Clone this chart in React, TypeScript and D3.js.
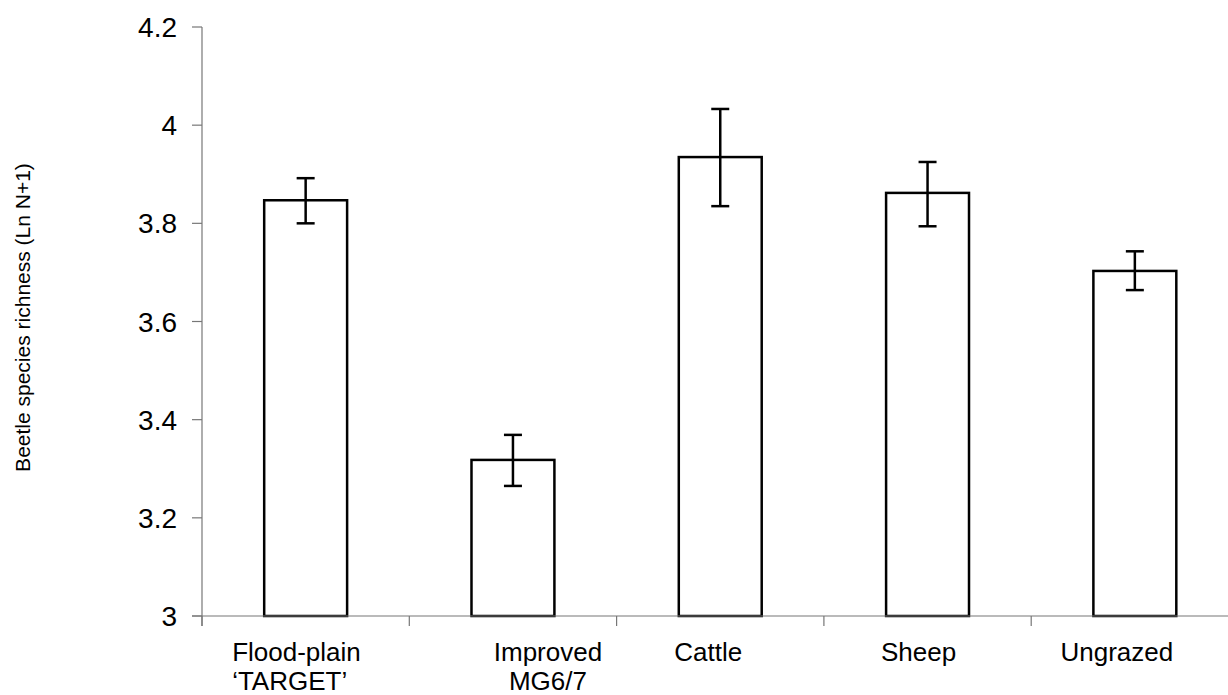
import React, { useRef, useEffect } from "react";
import * as d3 from "d3";

const categories = ["Flood-plain", "Improved", "Cattle", "Sheep", "Ungrazed"];
const labelLines = [
  ["Flood-plain", "\u2018TARGET\u2019"],
  ["Improved", "MG6/7"],
  ["Cattle"],
  ["Sheep"],
  ["Ungrazed"],
];
const means = [3.847, 3.318, 3.935, 3.862, 3.703];
const upper = [3.892, 3.369, 4.033, 3.925, 3.743];
const lower = [3.8, 3.265, 3.835, 3.794, 3.664];
const yTicks = [3, 3.2, 3.4, 3.6, 3.8, 4, 4.2];

export default function App() {
  const ref = useRef<SVGSVGElement>(null);

  useEffect(() => {
    const svg = d3.select(ref.current);
    svg.selectAll("*").remove();

    const font = "'Liberation Sans', Arial, sans-serif";
    const x0 = 202;
    const yScale = d3.scaleLinear().domain([3, 4.2]).range([616, 27]);
    const xScale = d3
      .scaleBand<string>()
      .domain(categories)
      .range([x0, 1238.5])
      .paddingInner(0.6)
      .paddingOuter(0.3);
    const step = xScale.step();
    const bw = xScale.bandwidth();

    // label placement tweaks (anchor + offset from band centre)
    const labelPos = [
      { anchor: "start", dx: -73.5 },
      { anchor: "middle", dx: 35 },
      { anchor: "middle", dx: -12 },
      { anchor: "middle", dx: -9 },
      { anchor: "middle", dx: -18 },
    ];

    const axisColor = "#777";

    // bars
    categories.forEach((c, i) => {
      svg
        .append("rect")
        .attr("x", xScale(c)!)
        .attr("y", yScale(means[i]))
        .attr("width", bw)
        .attr("height", yScale(3) - yScale(means[i]))
        .attr("fill", "white")
        .attr("stroke", "black")
        .attr("stroke-width", 2.5);
    });

    // axes
    svg
      .append("line")
      .attr("x1", x0)
      .attr("x2", x0)
      .attr("y1", yScale(4.2))
      .attr("y2", yScale(3) + 10)
      .attr("stroke", axisColor)
      .attr("stroke-width", 1.2);
    svg
      .append("line")
      .attr("x1", x0 - 10)
      .attr("x2", 1238.5)
      .attr("y1", yScale(3))
      .attr("y2", yScale(3))
      .attr("stroke", axisColor)
      .attr("stroke-width", 1.2);

    yTicks.forEach((t) => {
      svg
        .append("line")
        .attr("x1", x0 - 10)
        .attr("x2", x0)
        .attr("y1", yScale(t))
        .attr("y2", yScale(t))
        .attr("stroke", axisColor)
        .attr("stroke-width", 1.2);
      svg
        .append("text")
        .attr("x", 177)
        .attr("y", yScale(t))
        .attr("dy", "0.36em")
        .attr("text-anchor", "end")
        .attr("font-family", font)
        .attr("font-size", 28)
        .attr("fill", "black")
        .text(d3.format("~g")(t));
    });

    // x ticks at category boundaries
    categories.forEach((c) => {
      const bx = xScale(c)! - step * 0.3;
      svg
        .append("line")
        .attr("x1", bx)
        .attr("x2", bx)
        .attr("y1", yScale(3))
        .attr("y2", yScale(3) + 10)
        .attr("stroke", axisColor)
        .attr("stroke-width", 1.2);
    });

    // error bars
    categories.forEach((c, i) => {
      const cx = xScale(c)! + bw / 2;
      const g = svg.append("g").attr("stroke", "black").attr("stroke-width", 2.5);
      g.append("line").attr("x1", cx).attr("x2", cx).attr("y1", yScale(upper[i])).attr("y2", yScale(lower[i]));
      [upper[i], lower[i]].forEach((v) => {
        g.append("line")
          .attr("x1", cx - 9)
          .attr("x2", cx + 9)
          .attr("y1", yScale(v))
          .attr("y2", yScale(v));
      });
    });

    // category labels
    categories.forEach((c, i) => {
      const cx = xScale(c)! + bw / 2;
      const t = svg
        .append("text")
        .attr("font-family", font)
        .attr("font-size", 26)
        .attr("fill", "black")
        .attr("text-anchor", labelPos[i].anchor);
      labelLines[i].forEach((line, j) => {
        t.append("tspan")
          .attr("x", cx + labelPos[i].dx)
          .attr("y", 661 + j * 29)
          .text(line);
      });
    });

    // y axis title
    svg
      .append("text")
      .attr("transform", `translate(30,${(yScale(3) + yScale(4.2)) / 2 - 4}) rotate(-90)`)
      .attr("text-anchor", "middle")
      .attr("font-family", font)
      .attr("font-size", 21)
      .attr("fill", "black")
      .text("Beetle species richness (Ln N+1)");
  }, []);

  return (
    <svg
      ref={ref}
      width={1228}
      height={695}
      style={{ position: "absolute", left: 0, top: 0, background: "white" }}
    ></svg>
  );
}
